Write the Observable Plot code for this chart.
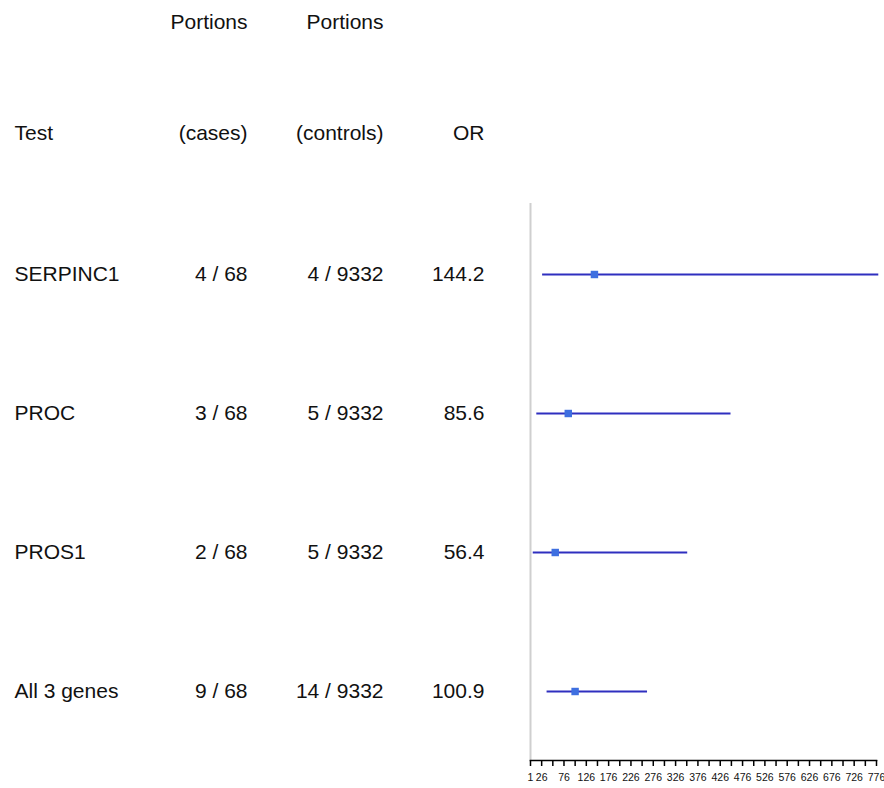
<!DOCTYPE html>
<html>
<head>
<meta charset="utf-8">
<script src="https://cdn.jsdelivr.net/npm/d3@7"></script>
<script src="https://cdn.jsdelivr.net/npm/@observablehq/plot@0.6"></script>
<style>
  html, body { margin: 0; padding: 0; background: #fff; }
  #chart svg { display: block; }
</style>
</head>
<body>
<div id="chart"></div>
<script>
const tests = ["SERPINC1", "PROC", "PROS1", "All 3 genes"];
const casesPortion = ["4 / 68", "3 / 68", "2 / 68", "9 / 68"];
const controlsPortion = ["4 / 9332", "5 / 9332", "5 / 9332", "14 / 9332"];
const orValues = [144.2, 85.6, 56.4, 100.9];
const ciLow = [27, 14, 6, 37];
const ciHigh = [780, 449, 352, 262];
const headerLine1 = ["", "Portions", "Portions", ""];
const headerLine2 = ["Test", "(cases)", "(controls)", "OR"];
const axisTicks = d3.range(1, 777, 25);
const labelledTicks = [1].concat(d3.range(26, 777, 50));

const rows = tests.map((t, i) => ({
  test: t, cases: casesPortion[i], controls: controlsPortion[i],
  or: orValues[i], lo: ciLow[i], hi: ciHigh[i]
}));

const font = "Liberation Sans, Arial, Helvetica, sans-serif";
const txt = {fontSize: 21, fill: "#111", fontFamily: font};

// column offsets relative to the frame's left edge
const colDx = [-516, -283, -147, -46];
const colAnchor = ["start", "end", "end", "end"];
const colKeys = ["test", "cases", "controls", "or"];

const marks = [];
colKeys.forEach((k, c) => {
  marks.push(Plot.text(rows, {
    y: "test",
    text: d => k === "or" ? d.or.toFixed(1) : d[k],
    frameAnchor: "left", dx: colDx[c], textAnchor: colAnchor[c], ...txt
  }));
  marks.push(Plot.text([headerLine1[c]], {
    text: d => d, frameAnchor: "top-left", dx: colDx[c], dy: -181,
    textAnchor: colAnchor[c], lineAnchor: "middle", ...txt
  }));
  marks.push(Plot.text([headerLine2[c]], {
    text: d => d, frameAnchor: "top-left", dx: colDx[c], dy: -70,
    textAnchor: colAnchor[c], lineAnchor: "middle", ...txt
  }));
});

marks.push(
  Plot.ruleX([1], {stroke: "#cfcfcf", strokeWidth: 2}),
  Plot.frame({anchor: "bottom", stroke: "#000", strokeWidth: 1.6}),
  Plot.axisX({
    ticks: axisTicks,
    tickFormat: d => labelledTicks.includes(d) ? String(d) : "",
    tickSize: 6, tickPadding: 7, fontSize: 10.5, fontFamily: font,
    label: null, stroke: "#000", strokeWidth: 1.5, fill: "#111"
  }),
  Plot.link(rows, {x1: "lo", x2: "hi", y1: "test", y2: "test", stroke: "#2f2fbf", strokeWidth: 2}),
  Plot.dot(rows, {x: "or", y: "test", symbol: "square", r: 4.2, fill: "#3e6fe0", stroke: "none"})
);

const chart = Plot.plot({
  width: 884,
  height: 788,
  marginLeft: 530,
  marginRight: 8,
  marginTop: 203,
  marginBottom: 28,
  style: {background: "#fff", fontFamily: font},
  x: {domain: [1, 776], axis: null},
  y: {type: "point", domain: tests, range: [273, 692], padding: 0, axis: null},
  marks
});
document.getElementById("chart").append(chart);
</script>
</body>
</html>
